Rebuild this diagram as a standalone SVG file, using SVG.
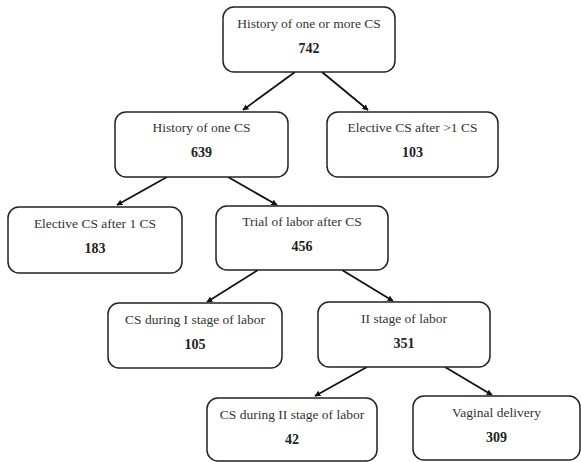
<svg xmlns="http://www.w3.org/2000/svg" width="581" height="462" viewBox="0 0 581 462">
<style>
.box{fill:#fff;stroke:#222;stroke-width:1.5}
.lbl{font-family:"Liberation Serif",serif;font-size:13.5px;fill:#333;text-anchor:middle}
.num{font-family:"Liberation Serif",serif;font-size:14px;font-weight:bold;fill:#222;text-anchor:middle}
.edge{stroke:#111;stroke-width:1.8;fill:none;marker-end:url(#ah)}
</style>
<defs>
<marker id="ah" viewBox="0 0 10 10" refX="9" refY="5" markerWidth="6" markerHeight="6" markerUnits="userSpaceOnUse" orient="auto">
<path d="M0,0L10,5L0,10z" fill="#111"/>
</marker>
</defs>
<rect width="581" height="462" fill="#fff"/>
<g id="connectors">
<line class="edge" x1="295" y1="72" x2="243" y2="110"/>
<line class="edge" x1="322" y1="72" x2="368" y2="110"/>
<line class="edge" x1="167" y1="177" x2="117" y2="205"/>
<line class="edge" x1="228" y1="177" x2="277" y2="205"/>
<line class="edge" x1="258" y1="270" x2="207" y2="302"/>
<line class="edge" x1="342" y1="270" x2="393" y2="301"/>
<line class="edge" x1="367" y1="367" x2="315" y2="396"/>
<line class="edge" x1="445" y1="367" x2="492" y2="395"/>
</g>
<g id="n1"><rect class="box" x="223" y="7" width="172" height="65" rx="11"/><text class="lbl" x="309" y="28">History of one or more CS</text><text class="num" x="309" y="53">742</text></g>
<g id="n2"><rect class="box" x="115" y="112" width="173" height="65" rx="11"/><text class="lbl" x="201.5" y="132">History of one CS</text><text class="num" x="201.5" y="157">639</text></g>
<g id="n3"><rect class="box" x="327" y="112" width="171" height="65" rx="11"/><text class="lbl" x="412.5" y="132">Elective CS after &gt;1 CS</text><text class="num" x="412.5" y="157">103</text></g>
<g id="n4"><rect class="box" x="8" y="207" width="174" height="66" rx="11"/><text class="lbl" x="95" y="228">Elective CS after 1 CS</text><text class="num" x="95" y="253">183</text></g>
<g id="n5"><rect class="box" x="216" y="206" width="172" height="64" rx="11"/><text class="lbl" x="302" y="226">Trial of labor after CS</text><text class="num" x="302" y="251">456</text></g>
<g id="n6"><rect class="box" x="108" y="303" width="174" height="65" rx="11"/><text class="lbl" x="195" y="324">CS during I stage of labor</text><text class="num" x="195" y="349">105</text></g>
<g id="n7"><rect class="box" x="318" y="302" width="172" height="65" rx="11"/><text class="lbl" x="404" y="323">II stage of labor</text><text class="num" x="404" y="348">351</text></g>
<g id="n8"><rect class="box" x="207" y="398" width="170" height="63" rx="11"/><text class="lbl" x="292" y="419">CS during II stage of labor</text><text class="num" x="292" y="444">42</text></g>
<g id="n9"><rect class="box" x="413" y="396" width="167" height="64" rx="11"/><text class="lbl" x="496.5" y="417">Vaginal delivery</text><text class="num" x="496.5" y="442">309</text></g>
</svg>
